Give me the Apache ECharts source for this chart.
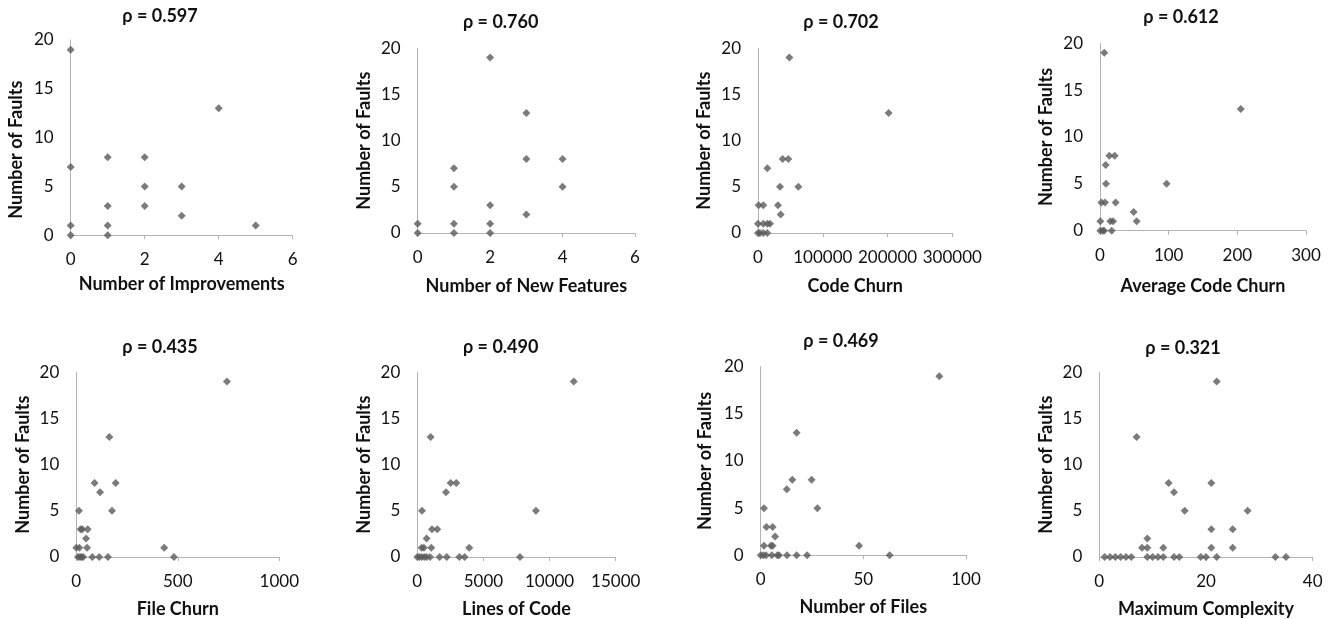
<!DOCTYPE html>
<html>
<head>
<meta charset="utf-8">
<script src="https://cdn.jsdelivr.net/npm/echarts@6/dist/echarts.min.js"></script>
<style>
html,body{margin:0;padding:0;background:#fff;}
#chart{width:1336px;height:619px;}
</style>
</head>
<body>
<div id="chart"></div>
<script>
// ---- data ----
const titles = ["ρ = 0.597","ρ = 0.760","ρ = 0.702","ρ = 0.612","ρ = 0.435","ρ = 0.490","ρ = 0.469","ρ = 0.321"];
const xNames = ["Number of Improvements","Number of New Features","Code Churn","Average Code Churn","File Churn","Lines of Code","Number of Files","Maximum Complexity"];
const yName = "Number of Faults";
const xMax = [6, 6, 300000, 300, 1000, 15000, 100, 40];
const xStep = [2, 2, 100000, 100, 500, 5000, 50, 20];

const improvX = [0,0,0,0,1,1,1,1,2,2,2,3,3,4,5];
const improvY = [19,7,1,0,8,3,1,0,8,5,3,5,2,13,1];

const featX = [0,0,1,1,1,1,2,2,2,2,3,3,3,4,4];
const featY = [1,0,7,5,1,0,19,3,1,0,13,8,2,8,5];

const churnX = [48400,201700,14400,38000,46800,34000,62300,30900,35000,1000,8200,0,8200,14400,18500,0,3000,8200,14400];
const churnY = [19,13,7,8,8,5,5,3,2,3,3,1,1,1,1,0,0,0,0];

const avgChurnX = [6.3,205,8.3,13.6,21.4,8.7,97,22.8,2,7.3,49,53.4,0.5,15,19,0.5,4,6,17];
const avgChurnY = [19,13,7,8,8,5,5,3,3,3,2,1,1,1,1,0,0,0,0];

const fileChurnX = [742,163,90,194,117,176,13,21,30,56,48,0,15,53,433,481,8,18,26,34,79,113,156];
const fileChurnY = [19,13,8,8,7,5,5,3,3,3,2,1,1,1,1,0,0,0,0,0,0,0,0];

const locX = [11830,1008,2520,2950,2170,353,8970,1110,1510,706,328,504,1060,3930,0,150,330,530,700,960,1690,2220,3180,3580,7760];
const locY = [19,13,8,8,7,5,5,3,3,2,1,1,1,1,0,0,0,0,0,0,0,0,0,0,0];

const filesX = [87,17.5,15.4,24.8,12.7,1.6,27.6,2.8,5.8,7,1.6,5,5.8,47.9,0,1.3,2.6,5.4,8.1,8.9,12.8,17.5,22.6,62.8];
const filesY = [19,13,8,8,7,5,5,3,3,2,1,1,1,1,0,0,0,0,0,0,0,0,0,0];

const complexX = [22,7,13,21,14,16,27.8,21,25,9,8,9,12,21,25,1,2,3,4,5,6,9,10,11,12,14,15,19,20,22,33,35];
const complexY = [19,13,8,8,7,5,5,3,3,2,1,1,1,1,1,0,0,0,0,0,0,0,0,0,0,0,0,0,0,0,0,0];

const xs = [improvX, featX, churnX, avgChurnX, fileChurnX, locX, filesX, complexX];
const ys = [improvY, featY, churnY, avgChurnY, fileChurnY, locY, filesY, complexY];

// ---- layout ----
const grids = [
  {left:70.7, top:40, width:222, height:195.3},
  {left:417.7, top:48.3, width:217.3, height:184.7},
  {left:758, top:48.3, width:194.3, height:184.7},
  {left:1100, top:43.3, width:206, height:187.4},
  {left:76.3, top:372.3, width:203, height:185},
  {left:417.3, top:372.3, width:198.4, height:185},
  {left:760.7, top:366.7, width:205.3, height:188.6},
  {left:1099.3, top:372.3, width:213.4, height:185}
];
const titlePos = [[155,14],[495.7,20],[836,20],[1176,15],[155,345],[495.7,345],[836,339],[1178,346]];
const yGap = [46,45,45,45,44,44,47,44];
const xGap = [40,44,44,46,43,43,43,43];

const FONT = 'Lato';
const TXT = '#111';
const AXIS = '#b3b3b3';

const option = {
  animation:false,
  backgroundColor:'#fff',
  title: titles.map((t,i)=>({
    text:t, left:titlePos[i][0], top:titlePos[i][1]-12, textAlign:'center',
    textStyle:{fontFamily:FONT, fontWeight:'bold', fontSize:18, color:TXT}
  })),
  grid: grids,
  xAxis: grids.map((g,i)=>({
    type:'value', gridIndex:i, min:0, max:xMax[i], interval:xStep[i],
    name:xNames[i], nameLocation:'middle', nameGap:xGap[i],
    nameTextStyle:{fontFamily:FONT, fontWeight:'bold', fontSize:18, color:TXT},
    axisLine:{show:true, onZero:false, lineStyle:{color:AXIS, width:1}},
    axisTick:{show:true, length:4, lineStyle:{color:AXIS}},
    axisLabel:{fontFamily:FONT, fontSize:17, color:TXT, margin:16, formatter:(v)=>String(v)},
    splitLine:{show:false}
  })),
  yAxis: grids.map((g,i)=>({
    type:'value', gridIndex:i, min:0, max:20, interval:5,
    name:yName, nameLocation:'middle', nameGap:yGap[i],
    nameTextStyle:{fontFamily:FONT, fontWeight:'bold', fontSize:18, color:TXT,
      padding: i===0 ? [0,24,0,0] : 0},
    axisLine:{show:true, lineStyle:{color:AXIS, width:1}},
    axisTick:{show:false},
    axisLabel:{fontFamily:FONT, fontSize:17, color:TXT, margin:17},
    splitLine:{show:false}
  })),
  series: xs.map((arr,i)=>({
    type:'scatter', xAxisIndex:i, yAxisIndex:i,
    symbol:'diamond', symbolSize:[8,8],
    itemStyle:{color:'#5a5a5a'},
    data: arr.map((x,k)=>[x, ys[i][k]])
  }))
};

const chart = echarts.init(document.getElementById('chart'), null, {renderer:'canvas'});
chart.setOption(option);
</script>
</body>
</html>
